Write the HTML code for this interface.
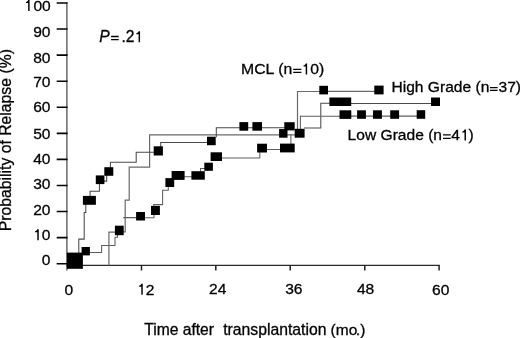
<!DOCTYPE html>
<html><head><meta charset="utf-8"><style>
html,body{margin:0;padding:0;background:#fff;width:520px;height:338px;overflow:hidden}
svg{position:absolute;left:0;top:0;will-change:transform}
text{font-family:"Liberation Sans",sans-serif;font-size:15.6px;fill:#000;stroke:#000;stroke-width:0.3px}
</style></head><body>
<svg width="520" height="338" viewBox="0 0 520 338">
<g stroke="#222" fill="none">
<path d="M66.9,2.3 V270.5" stroke="#505050" stroke-width="1.3"/>
<path d="M66.3,265.4 H439.8" stroke="#2a2a2a" stroke-width="1.25"/>
<path d="M141.5,265.3 V270.5 M215.8,265.3 V270.5 M290.2,265.3 V270.5 M364.8,265.3 V270.5 M439.1,265.3 V270.5" stroke-width="1.5"/>
<path d="M56.7,263.70 H67.5 M56.7,237.63 H67.5 M56.7,211.56 H67.5 M56.7,185.49 H67.5 M56.7,159.42 H67.5 M56.7,133.35 H67.5 M56.7,107.28 H67.5 M56.7,81.21 H67.5 M56.7,55.14 H67.5 M56.7,29.07 H67.5 M56.7,3.00 H67.5" stroke="#000" stroke-width="1.6"/>
</g>
<g fill="none" stroke-linejoin="miter" stroke-linecap="square">
<path stroke="#6a6a6a" stroke-width="1.2" d="M108.9,265 V232.2 H115 M123.7,231.8 H125.2 V200.1 H129.2 V167.1 H149.6 V134.9 H279 M287.5,134.9 H294.8 M297.5,128.7 V91.5 H319.3 M328,91.4 H374.3"/>
<path stroke="#4a4a4a" stroke-width="1.05" d="M78.8,252.6 V239.1 H84.2 V212.4 H85.8 V204.8 M90.1,195.9 V191.3 H99.4 V184.1 M104.4,181.1 H106.7 V175.8 M110.4,167.2 V162.3 H136.2 V152.3 H153.7 M160.7,146.3 V142.4 H206.9 M216.3,136.8 V127.8 H239.4 M248.2,127.8 H252.4 M262,127.8 H284.3 M304.6,127.9 H320.8 V103.3 H329.4 M351.2,103.4 H431"/>
<path stroke="#5e5e5e" stroke-width="1.05" d="M89.9,252.4 H101.6 V245.4 H115 V237.3 H117.5 V235.2 M123.7,217.6 H136.1 M145,217.7 H154 V215 M153.7,205.9 V204.6 H162.6 V190.2 H168.3 V187 M184.6,176.8 H191.4 M200.5,171.2 V168.5 H204.3 M222,158 H259.8 V152.5 M267,149.5 H280.2 M290.9,143.6 V134.9 M300.4,128.7 V116.2 H339.5 M351.3,116.1 H357.2 M365.9,116.1 H373 M381.9,116.1 H390.2 M399.1,116.1 H416.7"/>
</g>
<g fill="#000"><rect x="66.9" y="252.6" width="16" height="16.2"/><rect x="81.6" y="247" width="8.3" height="8.4"/><rect x="82.9" y="195.9" width="13" height="8.9"/><rect x="95.8" y="175.4" width="8.6" height="8.7"/><rect x="104.3" y="167.2" width="9" height="8.6"/><rect x="114.9" y="225.7" width="8.8" height="9.5"/><rect x="136.1" y="212" width="8.9" height="8.5"/><rect x="151" y="205.9" width="8.9" height="9.1"/><rect x="153.7" y="146.3" width="9.2" height="9.2"/><rect x="165.4" y="178.1" width="8.8" height="8.9"/><rect x="171.6" y="171" width="13" height="8.9"/><rect x="191.4" y="171.2" width="13.4" height="8.5"/><rect x="204.3" y="162.7" width="8.6" height="8.1"/><rect x="210.6" y="152.3" width="11.4" height="8.7"/><rect x="207" y="136.7" width="8.7" height="8.5"/><rect x="239.4" y="122.1" width="8.8" height="8.6"/><rect x="252.4" y="122.1" width="9.6" height="8.6"/><rect x="257.1" y="143.7" width="9.9" height="8.8"/><rect x="284.3" y="122.2" width="10.4" height="8.2"/><rect x="279.1" y="129.1" width="8.4" height="8.6"/><rect x="294.7" y="128.8" width="9.9" height="8.9"/><rect x="280" y="143.6" width="14.7" height="8.8"/><rect x="319.3" y="85.8" width="8.7" height="8.6"/><rect x="329.4" y="97.5" width="21.8" height="8.5"/><rect x="339.5" y="110.3" width="11.8" height="8.6"/><rect x="357.1" y="110.3" width="8.8" height="8.5"/><rect x="374.3" y="85.6" width="9.3" height="8.8"/><rect x="373" y="110.3" width="8.9" height="8.5"/><rect x="390.2" y="110.3" width="8.9" height="8.5"/><rect x="416.7" y="110.2" width="8.5" height="8.6"/><rect x="431" y="97.5" width="9" height="8.5"/></g>
<g text-anchor="end"><text x="50.8" y="11.0" transform="matrix(1,0,0,0.94,0,0.338)"><tspan fill="transparent" stroke="none">1</tspan>00</text><text x="50.5" y="37.0" transform="matrix(1,0,0,0.94,0,1.898)">90</text><text x="50.5" y="63.1" transform="matrix(1,0,0,0.94,0,3.464)">80</text><text x="50.5" y="87.8" transform="matrix(1,0,0,0.94,0,4.946)">70</text><text x="50.5" y="112.4" transform="matrix(1,0,0,0.94,0,6.422)">60</text><text x="50.5" y="138.9" transform="matrix(1,0,0,0.94,0,8.012)">50</text><text x="50.5" y="164.1" transform="matrix(1,0,0,0.94,0,9.524)">40</text><text x="50.5" y="189.3" transform="matrix(1,0,0,0.94,0,11.036)">30</text><text x="50.5" y="215.1" transform="matrix(1,0,0,0.94,0,12.584)">20</text><text x="50.5" y="240.2" transform="matrix(1,0,0,0.94,0,14.090)"><tspan fill="transparent" stroke="none">1</tspan>0</text><text x="50.5" y="265.8" transform="matrix(1,0,0,0.94,0,15.626)">0</text></g>
<text x="64.4" y="295.7" transform="matrix(1,0,0,0.94,0,17.420)">0</text><text x="137.0" y="295.2" transform="matrix(1,0,0,0.94,0,17.390)"><tspan fill="transparent" stroke="none">1</tspan>2</text><text x="209.1" y="294.8" transform="matrix(1,0,0,0.94,0,17.366)">24</text><text x="285.2" y="294.8" transform="matrix(1,0,0,0.94,0,17.366)">36</text><text x="356.9" y="294.8" transform="matrix(1,0,0,0.94,0,17.366)">48</text><text x="432.1" y="294.95" transform="matrix(1,0,0,0.94,0,17.375)">60</text>
<text x="144.2" y="334.9" style="font-size:15.65px">Time after</text><text x="223.2" y="334.9" style="font-size:15.75px">transplantation</text><text x="330.6" y="334.9" style="font-size:15.5px">(mo</text><text x="355.8" y="334.9" style="font-size:15.5px">.</text><text x="360.2" y="334.9" style="font-size:15.5px">)</text>
<text transform="translate(11.4,231.2) rotate(-90)" style="font-size:15.75px">Probability of Relapse (%)</text>
<text x="99.2" y="42.2" font-style="italic">P</text><path d="M111.1,36.5 H118.7 M111.1,39.7 H118.7" stroke="#000" stroke-width="1.3" fill="none"/><text x="121.6" y="42.2">.</text><text x="125.7" y="42.2">2</text>
<text x="241.0" y="74.55" transform="matrix(1,0,0,0.94,0,4.151)" style="font-size:15.8px">MCL (n<tspan fill="transparent" stroke="none">=1</tspan>0)</text><path d="M293.2,69.4 H301.4 M293.2,72.3 H301.4" stroke="#000" stroke-width="1.3" fill="none"/>
<text x="391.5" y="92.5" transform="matrix(1,0,0,0.94,0,5.228)">High Grade (n<tspan fill="transparent" stroke="none">=</tspan>37)</text><path d="M490,87.6 H497.6 M490,90.3 H497.6" stroke="#000" stroke-width="1.3" fill="none"/>
<text x="347.6" y="140.5" transform="matrix(1,0,0,0.94,0,8.108)">Low Grade (n<tspan fill="transparent" stroke="none">=</tspan>4<tspan fill="transparent" stroke="none">1</tspan>)</text><path d="M443,134.9 H450.7 M443,138.4 H450.7" stroke="#000" stroke-width="1.3" fill="none"/>
<path fill="#000" d="M28.15,0.00 H29.60 V11.00 H28.15 V3.00 H25.95 V1.90 C27.15,1.80 27.85,1.10 28.15,0.00 Z M37.30,229.20 H38.75 V240.20 H37.30 V232.20 H35.10 V231.10 C36.30,231.00 37.00,230.30 37.30,229.20 Z M141.30,283.65 H142.75 V294.65 H141.30 V286.65 H139.10 V285.55 C140.30,285.45 141.00,284.75 141.30,283.65 Z M138.60,31.20 H140.05 V42.20 H138.60 V34.20 H136.40 V33.10 C137.60,33.00 138.30,32.30 138.60,31.20 Z M305.70,63.55 H307.15 V74.55 H305.70 V66.55 H303.50 V65.45 C304.70,65.35 305.40,64.65 305.70,63.55 Z M464.50,129.50 H465.95 V140.50 H464.50 V132.50 H462.30 V131.40 C463.50,131.30 464.20,130.60 464.50,129.50 Z"/>
</svg>
</body></html>
